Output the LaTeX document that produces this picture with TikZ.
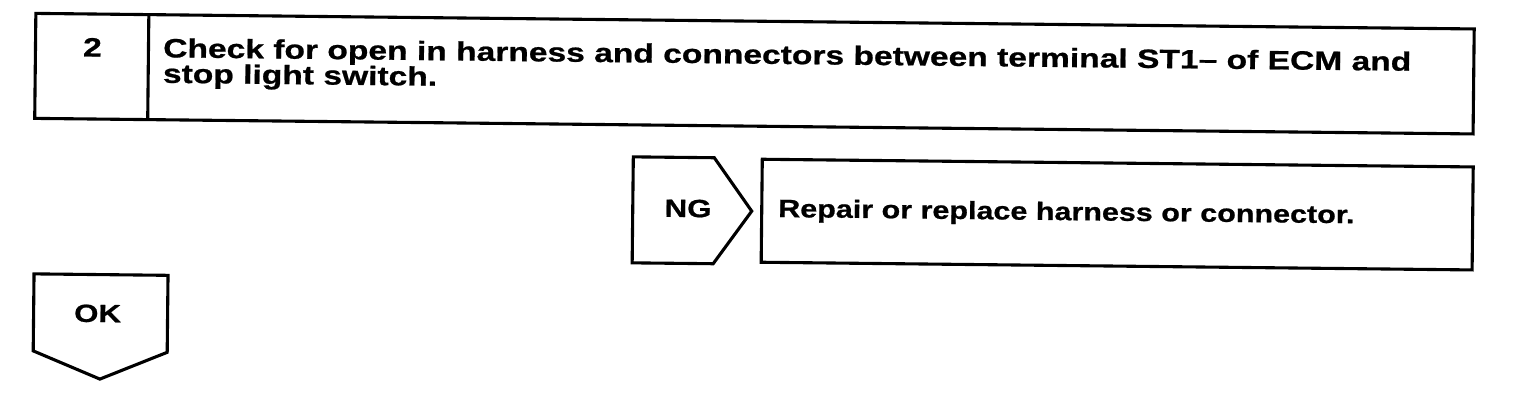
\documentclass[tikz,border=0pt]{standalone}
\usepackage{fontspec}
\setmainfont{Liberation Sans}
\newfontfamily\mainA{Liberation Sans}[FakeStretch=1.267,FakeBold=0.8]
\newfontfamily\mainB{Liberation Sans}[FakeStretch=1.22,FakeBold=0.8]
\newfontfamily\mainC{Liberation Sans}[FakeStretch=1.25,FakeBold=0.8]
\begin{document}
\begin{tikzpicture}[x=1pt,y=-1pt]
\useasboundingbox (0,0) rectangle (1520,408);
\tikzset{
  frame/.style={draw=black,line width=3.1pt,line join=miter},
  bigtxt/.style={inner sep=0pt,font=\mainA\bfseries\fontsize{26.5}{25.5}\selectfont},
  midtxt/.style={inner sep=0pt,font=\mainB\bfseries\fontsize{25}{25}\selectfont},
  tagtxt/.style={inner sep=0pt,font=\mainC\bfseries\fontsize{25}{25}\selectfont}
}
\begin{scope}[rotate=-0.62,transform shape]
  % step box
  \draw[frame] (36,13) rectangle (1474.5,118);
  \draw[frame] (149,13) -- (149,118);
  \node[bigtxt,anchor=base] (num) at (93,55.5) {2};
  \node[bigtxt,anchor=base west,text depth=0pt] (q1) at (163.6,55.5) {Check for open in harness and connectors between terminal ST1– of ECM and};
  \node[bigtxt,anchor=base west,text height=15pt] (q2) at (163.6,81) {stop light switch.};
  % NG tag
  \draw[frame] (635,150) -- (716,150) -- (754,203) -- (716,256) -- (635,256) -- cycle;
  \node[tagtxt,anchor=base] (ng) at (690.3,209.6) {NG};
  % repair box
  \draw[frame] (764,151) rectangle (1475,254);
  \node[midtxt,anchor=base west] (rep) at (780.3,208.6) {Repair or replace harness or connector.};
  % OK tag
  \draw[frame] (37,273.5) -- (171,273.5) -- (171,350.5) -- (104,378) -- (37,350.5) -- cycle;
  \node[tagtxt,anchor=base] (ok) at (101,321) {OK};
\end{scope}
\end{tikzpicture}
\end{document}
